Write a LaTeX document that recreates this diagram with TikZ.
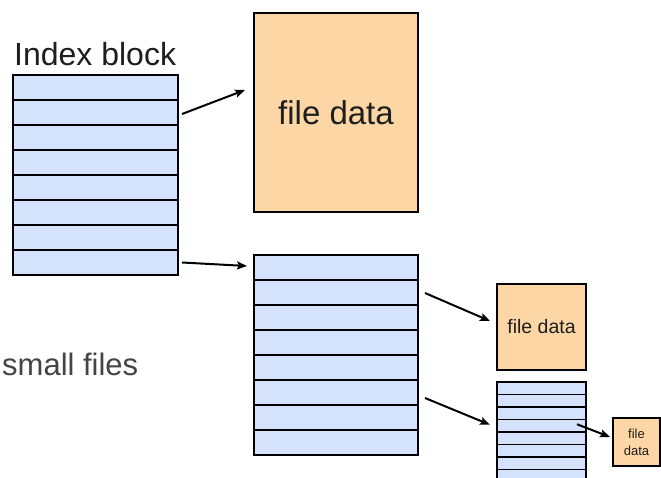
\documentclass[tikz,border=0pt]{standalone}
\usepackage{fontspec}
\setmainfont{Liberation Sans}
\usetikzlibrary{arrows.meta}
\definecolor{rowblue}{HTML}{D5E2FB}
\definecolor{dataorange}{HTML}{FCD7A5}
\definecolor{txtdark}{HTML}{1E1E1E}
\definecolor{txtgray}{HTML}{444444}
\tikzset{
  rowbox/.style={draw=black, line width=1.7pt, fill=rowblue, minimum width=165pt, minimum height=25pt, inner sep=0pt, outer sep=0pt},
  minirow/.style={draw=black, line width=1.6pt, fill=rowblue, minimum width=89pt, minimum height=12.5pt, inner sep=0pt, outer sep=0pt},
  databox/.style={draw=black, line width=2pt, fill=dataorange, inner sep=0pt, outer sep=0pt, text=txtdark, align=center},
  arr/.style={-{Stealth[length=10pt,width=8pt,inset=2pt]}, line width=2pt, black},
  lbl/.style={inner sep=0pt, anchor=base west}
}
\begin{document}
\begin{tikzpicture}[x=1pt,y=-1pt]
\useasboundingbox (0,0) rectangle (661,477);
\clip (0,0) rectangle (661,477);
\fill[white] (0,0) rectangle (661,477);

% Index block label
\node[lbl, text=txtdark, font=\fontsize{32}{32}\selectfont] (lblidx) at (14,65) {Index block};
% small files label
\node[lbl, text=txtgray, font=\fontsize{31}{31}\selectfont] (lblsmall) at (2,375) {small files};

% Index block rows
\foreach \i in {1,...,8} {
  \node[rowbox] (a\i) at (95.5,{62.5+25*\i}) {};
}

% big file data
\node[databox, minimum width=164pt, minimum height=199pt, font=\fontsize{33}{33}\selectfont] (fd1) at (336,112.5) {file data};

% second index block
\foreach \i in {1,...,8} {
  \node[rowbox, minimum width=164pt] (b\i) at (336,{242.5+25*\i}) {};
}

% small file data
\node[databox, minimum width=89pt, minimum height=86pt, font=\fontsize{19.5}{19.5}\selectfont] (fd2) at (541.5,326.5) {file data};

% third index block (clipped)
\foreach \i in {1,...,16} {
  \node[minirow] (c\i) at (541.5,{375.75+12.5*\i}) {};
}

% tiny file data
\node[databox, line width=1.8pt, minimum width=47pt, minimum height=48pt, font=\fontsize{13}{17}\selectfont] (fd3) at (636.5,442) {file\\data};

% connectors
\draw[arr] ([xshift=4pt,yshift=-1.5pt]a2.east) -- ([xshift=-9pt,yshift=22.5pt]fd1.west);
\draw[arr] ([xshift=4pt]a8.east) -- ([xshift=-7pt,yshift=1.5pt]b1.west);
\draw[arr] ([xshift=7pt,yshift=-0.5pt]b2.east) -- ([xshift=-7pt,yshift=5.5pt]fd2.west);
\draw[arr] ([xshift=7pt,yshift=-5.5pt]b6.east) -- ([xshift=-7pt,yshift=1pt]c4.west);
\draw[arr] ([xshift=-9pt,yshift=1.5pt]c4.east) -- ([xshift=-3pt,yshift=5pt]fd3.west);
\end{tikzpicture}
\end{document}
